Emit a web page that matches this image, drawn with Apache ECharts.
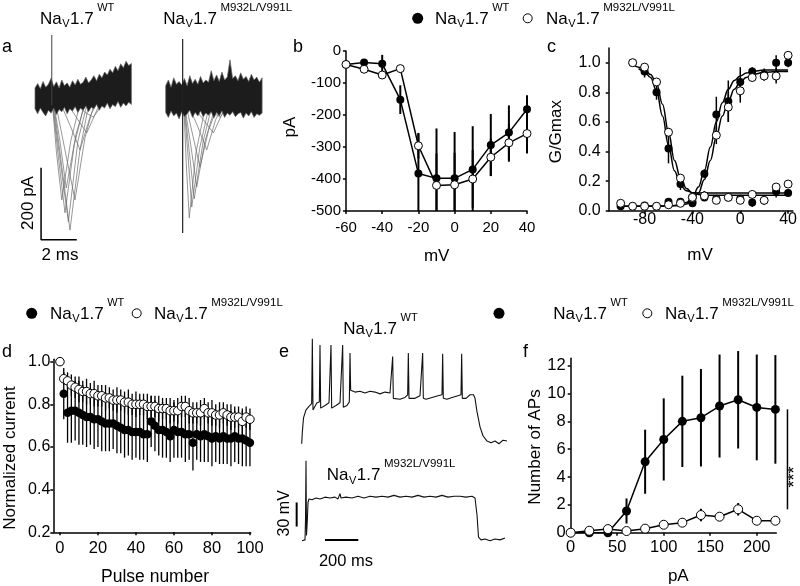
<!DOCTYPE html>
<html><head><meta charset="utf-8">
<script src="https://cdn.jsdelivr.net/npm/echarts@6/dist/echarts.min.js"></script>
<style>html,body{margin:0;padding:0;background:#fff}#chart{width:800px;height:586px}</style>
</head><body><div id="chart"></div>
<script>
const FONT = '"Liberation Sans", Arial, sans-serif';

// ---------- Panel b : I-V relation ----------
const bVolt   = [-60,-50,-40,-30,-20,-10,0,10,20,30,40];
const bWT     = [-42,-36,-40,-152,-383,-398,-398,-370,-294,-255,-182];
const bWTErr  = [0,8,28,45,125,156,145,135,97,85,44];
const bMut    = [-42,-57,-75,-55,-296,-420,-418,-400,-332,-287,-258];
const bMutErr = [0,10,12,8,40,100,100,90,58,59,62];

// ---------- Panel c : activation / inactivation ----------
const cActV      = [-100,-90,-80,-70,-60,-50,-40,-30,-20,-10,0,10,20,30,40];
const cActWT     = [0.03,0.03,0.035,0.03,0.06,0.06,0.05,0.25,0.65,0.74,0.87,0.94,0.92,1.0,1.0];
const cActWTErr  = [0,0,0,0,0.02,0.01,0.02,0.03,0.12,0.14,0.1,0.03,0.04,0.05,0.03];
const cActMut    = [0.05,0.03,0.03,0.03,0.04,0.05,0.09,0.10,0.51,0.70,0.81,0.90,0.91,0.91,1.05];
const cActMutErr = [0,0,0,0,0,0,0.02,0.03,0.06,0.1,0.08,0.03,0.03,0.05,0.01];
const cInV       = [-90,-80,-70,-60,-50,-40,-30,-20,-10,0,10,20,30,40];
const cInWT      = [1.0,0.94,0.80,0.42,0.18,0.06,0.09,0.08,0.09,0.08,0.055,0.07,0.13,0.12];
const cInWTErr   = [0,0.04,0.05,0.1,0.04,0.02,0.02,0.02,0.02,0.02,0.03,0.03,0.04,0.02];
const cInMut     = [1.0,0.97,0.87,0.53,0.22,0.09,0.10,0.07,0.09,0.07,0.11,0.07,0.16,0.18];
const cInMutErr  = [0,0,0.02,0.03,0.02,0.02,0.03,0.02,0.01,0.02,0.02,0.02,0.02,0.01];
const cFitInWTV  = [-85,-80,-75,-70,-65,-60,-55,-50,-45,-40,-35,40];
const cFitInWT   = [0.96,0.94,0.90,0.81,0.64,0.44,0.27,0.17,0.135,0.122,0.12,0.12];
const cFitInMutV = [-90,-85,-80,-75,-70,-65,-60,-55,-50,-45,-40,-35,-30,40];
const cFitInMut  = [0.99,0.97,0.955,0.92,0.86,0.72,0.53,0.34,0.22,0.15,0.12,0.11,0.105,0.105];
const cFitActV   = [-100,-60,-50,-45,-40,-35,-30,-25,-20,-15,-10,-5,0,5,10,20,30,40];
const cFitActWT  = [0.03,0.032,0.04,0.055,0.09,0.16,0.27,0.43,0.60,0.73,0.82,0.88,0.91,0.93,0.94,0.95,0.95,0.95];
const cFitActMut = [0.03,0.031,0.035,0.045,0.07,0.12,0.21,0.34,0.50,0.64,0.74,0.82,0.87,0.90,0.92,0.935,0.94,0.94];

// ---------- Panel d : use-dependent current ----------
const dPulse = Array.from({length:51}, (_, i) => i * 2);
const dWT = [1.00,0.85,0.76,0.77,0.77,0.76,0.75,0.74,0.74,0.73,0.73,0.72,0.71,0.71,0.71,0.70,0.69,0.68,0.68,0.67,0.67,0.67,0.66,0.66,0.72,0.70,0.68,0.68,0.67,0.65,0.68,0.67,0.67,0.66,0.66,0.62,0.66,0.65,0.66,0.65,0.64,0.65,0.64,0.65,0.64,0.64,0.65,0.64,0.64,0.63,0.62];
const dWTErr = [0,0.12,0.14,0.15,0.14,0.15,0.14,0.14,0.13,0.14,0.13,0.14,0.13,0.13,0.12,0.13,0.12,0.13,0.12,0.13,0.12,0.13,0.12,0.13,0.12,0.12,0.12,0.13,0.12,0.12,0.13,0.12,0.12,0.13,0.12,0.13,0.12,0.12,0.13,0.12,0.13,0.12,0.12,0.13,0.12,0.13,0.12,0.12,0.13,0.12,0.11];
const dMut = [1.00,0.92,0.91,0.89,0.88,0.87,0.86,0.86,0.85,0.85,0.84,0.84,0.83,0.83,0.82,0.82,0.82,0.81,0.81,0.80,0.80,0.80,0.80,0.79,0.79,0.79,0.78,0.78,0.78,0.77,0.77,0.77,0.79,0.79,0.77,0.76,0.76,0.76,0.78,0.76,0.76,0.75,0.75,0.76,0.75,0.74,0.74,0.74,0.72,0.74,0.73];
const dMutErr = [0,0.03,0.04,0.05,0.05,0.06,0.05,0.06,0.05,0.06,0.05,0.05,0.06,0.05,0.05,0.06,0.05,0.05,0.06,0.05,0.06,0.05,0.05,0.06,0.05,0.05,0.06,0.05,0.05,0.06,0.05,0.06,0.05,0.05,0.06,0.05,0.05,0.06,0.05,0.05,0.06,0.05,0.06,0.05,0.05,0.06,0.05,0.05,0.06,0.05,0.05];

// ---------- Panel f : number of APs ----------
const fCurrent = [0,20,40,60,80,100,120,140,160,180,200,220];
const fWT      = [0,0,0,1.56,5.1,6.7,8.0,8.26,9.1,9.55,9.0,8.86];
const fWTErr   = [0,0,0,0.9,2.3,2.95,3.28,3.5,3.7,3.5,3.8,3.9];
const fMut     = [0,0.14,0.26,0.12,0.29,0.57,0.72,1.27,1.15,1.68,0.86,0.86];
const fMutErr  = [0,0,0,0,0,0,0.3,0.45,0,0.45,0,0];
const fSigBar  = [[233,1.68,8.86]];

// ---------- Panel a : current traces (ms, pA) ----------
const aBandT  = [0,0.15,0.3,0.45,0.6,0.75,0.9,1.05,1.2,1.35,1.5,1.65,1.8,1.95,2.1,2.25,2.4,2.55,2.7,2.85,3.0,3.15,3.3,3.45,3.6,3.75,3.9,4.05,4.2,4.35,4.5,4.65,4.8,4.95,5.1,5.25,5.4];
const aWTUp   = [28,40,26,46,30,38,55,32,45,28,50,34,42,30,48,36,52,38,44,58,42,50,62,48,66,56,72,64,80,70,88,76,95,84,102,90,96];
const aWTLow  = [-30,-44,-28,-40,-50,-34,-42,-28,-46,-32,-38,-26,-44,-30,-36,-24,-40,-28,-34,-22,-38,-26,-30,-18,-34,-22,-28,-14,-30,-18,-24,-10,-26,-14,-22,-12,-18];
const aMutUp  = [34,50,30,56,38,46,36,54,34,62,40,52,38,60,42,50,44,76,48,64,46,72,50,58,106,54,62,48,70,52,60,46,66,50,58,44,56];
const aMutLow = [-40,-54,-36,-50,-42,-58,-38,-52,-44,-34,-54,-40,-50,-36,-52,-42,-48,-38,-56,-40,-50,-36,-54,-42,-48,-38,-52,-44,-40,-56,-42,-50,-38,-54,-44,-48,-42];
const aWTArtifact  = [[0.94,-20],[0.94,175]];
const aMutArtifact = [[0.95,164],[0.95,-375]];
const aWTTraces = [
  [[0.95,0],[1.2,-150],[1.5,-283],[2.0,-120],[2.5,-20],[2.8,0]],
  [[0.95,0],[1.3,-160],[1.68,-319],[2.2,-130],[2.7,-30],[3.0,0]],
  [[0.95,0],[1.4,-170],[1.87,-344],[2.4,-120],[2.9,-20],[3.2,0]],
  [[1.0,0],[1.5,-190],[1.96,-367],[2.5,-150],[3.0,-20],[3.3,0]],
  [[1.0,0],[1.4,-120],[1.75,-250],[2.3,-100],[2.9,0]],
  [[1.1,0],[1.7,-150],[2.24,-283],[2.8,-110],[3.4,0]],
  [[1.3,0],[2.0,-80],[2.52,-144],[3.1,-50],[3.6,0]],
  [[1.6,0],[2.4,-60],[2.9,-97],[3.5,-30],[4.0,0]],
  [[2.0,0],[2.8,-40],[3.27,-53],[3.9,-10],[4.4,0]]
];
const aMutTraces = [
  [[1.0,0],[1.15,-180],[1.32,-333],[1.7,-150],[2.2,-30],[2.5,0]],
  [[1.0,0],[1.25,-160],[1.46,-303],[1.9,-140],[2.4,-30],[2.7,0]],
  [[1.0,0],[1.3,-140],[1.6,-280],[2.1,-120],[2.6,-20],[2.9,0]],
  [[1.0,0],[1.4,-130],[1.74,-247],[2.2,-120],[2.8,-20],[3.1,0]],
  [[1.05,0],[1.5,-100],[1.92,-192],[2.4,-90],[3.0,-10],[3.3,0]],
  [[1.1,0],[1.8,-80],[2.3,-144],[2.8,-60],[3.4,0]],
  [[1.2,0],[2.1,-60],[2.67,-97],[3.2,-40],[3.8,0]],
  [[1.3,0],[2.5,-35],[3.04,-53],[3.6,-20],[4.2,0]]
];
const aScaleBar = [[0.34,-194],[0.34,-394],[2.34,-394]];

// ---------- Panel e : voltage traces (ms, mV) ----------
const eWT = [[40,-99],[44,-86],[51,-70],[66,-61],[84,-57],[100,-54],[104,19],[108,-61],[120,-57],[132,-53],[146,-52],[150,12],[154,-59],[180,-56],[204,-53],[212,-51],[216,12],[220,-59],[246,-56],[270,-53],[282,-51],[286,12],[290,-58],[312,-56],[326,-52],[330,3],[334,-39],[360,-41],[390,-40],[420,-42],[450,-40],[480,-41],[510,-43],[540,-41],[570,-42],[582,-44],[586,-1],[590,-48],[600,-50],[630,-49],[660,-47],[676,-44],[680,3],[684,-48],[696,-50],[720,-48],[750,-45],[762,-44],[766,3],[770,-48],[786,-49],[822,-47],[858,-45],[882,-44],[886,2],[890,-48],[912,-49],[942,-47],[978,-45],[996,-44],[1000,2],[1004,-48],[1026,-48],[1050,-44],[1071,-44],[1080,-48],[1092,-63],[1110,-80],[1128,-90],[1152,-96],[1176,-98],[1200,-96],[1224,-99],[1248,-95],[1272,-96]];
const eMut = [[42,-208],[60,-207],[63,-185],[66,-118],[69,-202],[74,-185],[78,-165],[84,-161],[102,-162],[126,-160],[150,-161],[180,-159],[210,-160],[240,-159],[258,-161],[270,-155],[276,-160],[306,-159],[342,-160],[378,-158],[414,-160],[450,-158],[486,-159],[522,-158],[558,-159],[594,-157],[630,-159],[666,-158],[702,-159],[738,-157],[774,-159],[810,-158],[846,-159],[882,-157],[918,-159],[954,-158],[990,-158],[1026,-159],[1062,-158],[1080,-160],[1092,-179],[1101,-204],[1116,-207],[1140,-206],[1170,-208],[1200,-206],[1230,-207],[1260,-205]];
const eScaleV = [[10,-165],[10,-192]];
const eScaleH = [[180,-207],[380,-207]];

// ================= helpers =================
const mctx = document.createElement('canvas').getContext('2d');
function tw(t, s){ mctx.font = s + 'px ' + FONT; return mctx.measureText(t).width; }
function txt(t, x, baseY, size, extra){
  return Object.assign({type:'text', x:x, y:baseY - 0.35*size, silent:true,
    style:{text:t, fontSize:size, fontFamily:FONT, fill:'#000', align:'left', verticalAlign:'middle'}}, extra||{});
}
function ctxt(t, cx, cy, size, rot){
  return {type:'text', x:cx, y:cy, rotation: rot||0, silent:true,
    style:{text:t, fontSize:size, fontFamily:FONT, fill:'#000', align:'center', verticalAlign:'middle'}};
}
function naLabel(x, baseY, sup){
  const big = 17, sub = 11, ss = sup.length > 3 ? 11.5 : 11;
  const wNa = tw('Na', big), wV = tw('V', sub), w17 = tw('1.7', big);
  return [
    txt('Na', x, baseY, big),
    txt('V', x + wNa + 0.5, baseY + 3.3, sub),
    txt('1.7', x + wNa + wV + 1, baseY, big),
    txt(sup, x + wNa + wV + 1 + w17 + 3.5, baseY - 13.5, ss)
  ];
}
function dot(cx, cy, filled){
  return {type:'circle', silent:true, shape:{cx:cx, cy:cy, r: filled ? 5.5 : 4.5},
    style: filled ? {fill:'#000'} : {fill:'#fff', stroke:'#000', lineWidth:1}};
}
function axX(gi, min, max, ticks, fs, margin){
  return {type:'value', gridIndex:gi, min:min, max:max,
    axisLine:{onZero:false, lineStyle:{color:'#000', width:1.5}},
    axisTick:{show:true, length:3, customValues:ticks, lineStyle:{color:'#000', width:1.5}},
    axisLabel:{customValues:ticks, color:'#000', fontSize:fs, fontFamily:FONT, margin:margin},
    splitLine:{show:false}};
}
function hidden(gi, min, max){ return {type:'value', gridIndex:gi, min:min, max:max, show:false}; }
function errRows(xs, ys, es, lo){
  const r = [];
  xs.forEach((x, i) => { if (es[i] > 0) r.push([x, Math.max(ys[i] - es[i], lo), ys[i] + es[i]]); });
  return r;
}
function errSeries(gi, rows, w){
  return {type:'custom', xAxisIndex:gi, yAxisIndex:gi, data:rows, silent:true, z:1,
    encode:{x:0, y:[1,2]},
    renderItem:(p, api) => {
      const a = api.coord([api.value(0), api.value(1)]);
      const b = api.coord([api.value(0), api.value(2)]);
      return {type:'line', shape:{x1:a[0], y1:a[1], x2:b[0], y2:b[1]}, style:{stroke:'#000', lineWidth:w}};
    }};
}
function pairs(xs, ys){ return xs.map((x, i) => [x, ys[i]]); }
const filledItem = {color:'#000', opacity:1};
const openItem = {color:'#fff', borderColor:'#000', borderWidth:1, opacity:1};
function ptLine(gi, xs, ys, filled, size, lw, z){
  return {type:'line', xAxisIndex:gi, yAxisIndex:gi, data:pairs(xs, ys), symbol:'circle', symbolSize:size,
    showAllSymbol:true, lineStyle:{color:'#000', width:lw}, itemStyle: filled ? filledItem : openItem, z:z, silent:true};
}
function scat(gi, xs, ys, filled, size, z){
  return {type:'scatter', xAxisIndex:gi, yAxisIndex:gi, data:pairs(xs, ys), symbol:'circle', symbolSize:size,
    itemStyle: filled ? filledItem : openItem, z:z, silent:true};
}
function fit(gi, xs, ys){
  return {type:'line', xAxisIndex:gi, yAxisIndex:gi, data:pairs(xs, ys), symbol:'none', smooth:0.4,
    smoothMonotone:'x', lineStyle:{color:'#000', width:1.5}, z:2, silent:true};
}
function trace(gi, data, color, w, z){
  return {type:'line', xAxisIndex:gi, yAxisIndex:gi, data:data, symbol:'none',
    lineStyle:{color:color, width:w}, z:z, silent:true};
}
function band(gi, T, up, low){
  return {type:'custom', xAxisIndex:gi, yAxisIndex:gi, data:[[T[0], up[0]]], silent:true, z:3,
    renderItem:(p, api) => {
      const pts = T.map((t, i) => api.coord([t, up[i]]));
      const lp = T.map((t, i) => api.coord([t, low[i]])).reverse();
      return {type:'polygon', shape:{points:pts.concat(lp)}, style:{fill:'#1c1c1c', stroke:'#666', lineWidth:0.7}};
    }};
}

// ================= option =================
const grids = [
  {left:346, top:51, width:181, height:160},          // 0 b
  {left:608.7, top:47.9, width:184.8, height:162.8},  // 1 c
  {left:53.3, top:359.3, width:197.4, height:173},    // 2 d
  {left:570.7, top:358.3, width:205.6, height:174.4}, // 3 f
  {left:35, top:26, width:96.4, height:223.2},        // 4 a WT
  {left:165.7, top:26, width:96.4, height:223.2},     // 5 a mut
  {left:295, top:320, width:225, height:227}          // 6 e
];
const xAxes = [
  axX(0, -60, 40, [-60,-40,-20,0,20,40], 15, 9),
  axX(1, -110, 44, [-80,-40,0,40], 16, 1),
  axX(2, -3.5, 100.4, [0,20,40,60,80,100], 16.5, 8),
  axX(3, 0, 221, [0,50,100,150,200], 16.5, 6),
  hidden(4, 0, 5.4), hidden(5, 0, 5.4), hidden(6, 0, 1350)
];
const yAxes = [
  axX(0, -500, 0, [-500,-400,-300,-200,-100,0], 15, 5),
  axX(1, 0, 1.1, [0,0.2,0.4,0.6,0.8,1.0], 16, 8),
  axX(2, 0.2, 1.011, [0.2,0.4,0.6,0.8,1.0], 16, 3),
  axX(3, 0, 12.53, [0,2,4,6,8,10,12], 16.5, 5),
  hidden(4, -420, 200), hidden(5, -420, 200), hidden(6, -215, 40)
];
yAxes[1].axisLabel.formatter = v => v.toFixed(1);
yAxes[2].axisLabel.formatter = v => v.toFixed(1);

const series = [];
// b
series.push(errSeries(0, errRows(bVolt, bWT, bWTErr, -500), 2));
series.push(errSeries(0, errRows(bVolt, bMut, bMutErr, -500), 2));
series.push(ptLine(0, bVolt, bWT, true, 8, 1.5, 3));
series.push(ptLine(0, bVolt, bMut, false, 8, 1.5, 4));
// c
series.push(errSeries(1, errRows(cActV, cActWT, cActWTErr, 0), 1.5));
series.push(errSeries(1, errRows(cActV, cActMut, cActMutErr, 0), 1.5));
series.push(errSeries(1, errRows(cInV, cInWT, cInWTErr, 0), 1.5));
series.push(errSeries(1, errRows(cInV, cInMut, cInMutErr, 0), 1.5));
series.push(fit(1, cFitInWTV, cFitInWT));
series.push(fit(1, cFitInMutV, cFitInMut));
series.push(fit(1, cFitActV, cFitActWT));
series.push(fit(1, cFitActV, cFitActMut));
series.push(scat(1, cActV, cActWT, true, 8, 3));
series.push(scat(1, cInV, cInWT, true, 8, 3));
series.push(scat(1, cActV, cActMut, false, 8, 4));
series.push(scat(1, cInV, cInMut, false, 8, 4));
// d
series.push(errSeries(2, errRows(dPulse, dWT, dWTErr, 0.2), 1.3));
series.push(errSeries(2, errRows(dPulse, dMut, dMutErr, 0.2), 1.3));
series.push(scat(2, dPulse, dWT, true, 8.5, 3));
series.push(scat(2, dPulse, dMut, false, 8.5, 4));
// f
series.push(errSeries(3, errRows(fCurrent, fWT, fWTErr, 0), 2));
series.push(errSeries(3, errRows(fCurrent, fMut, fMutErr, 0), 2));
series.push(ptLine(3, fCurrent, fWT, true, 9, 1.5, 3));
series.push(ptLine(3, fCurrent, fMut, false, 9, 1.5, 4));
series.push(errSeries(3, fSigBar, 1.5));
// a
aWTTraces.forEach(t => series.push(trace(4, t, '#6a6a6a', 0.7, 2)));
aMutTraces.forEach(t => series.push(trace(5, t, '#6a6a6a', 0.7, 2)));
series.push(band(4, aBandT, aWTUp, aWTLow));
series.push(band(5, aBandT, aMutUp, aMutLow));
series.push(trace(4, aWTArtifact, '#444', 1, 4));
series.push(trace(5, aMutArtifact, '#222', 1.2, 4));
series.push(trace(4, aScaleBar, '#000', 1.5, 4));
// e
series.push(trace(6, eWT, '#111', 1.1, 3));
series.push(trace(6, eMut, '#111', 1.1, 3));
series.push(trace(6, eScaleV, '#000', 2, 3));
series.push(trace(6, eScaleH, '#000', 2, 3));

const g = [];
// legends
g.push(dot(417.7, 18.3, true), dot(527.7, 18.3, false));
g.push(...naLabel(435, 25, 'WT'), ...naLabel(546, 25, 'M932L/V991L'));
g.push(dot(31.7, 313.3, true), dot(136.7, 313.3, false));
g.push(...naLabel(50, 320, 'WT'), ...naLabel(154, 320, 'M932L/V991L'));
g.push(dot(499, 313.3, true), dot(647.3, 313.3, false));
g.push(...naLabel(553.3, 320, 'WT'), ...naLabel(665, 320, 'M932L/V991L'));
// panel a / e titles
g.push(...naLabel(40, 25, 'WT'), ...naLabel(163.3, 25, 'M932L/V991L'));
g.push(...naLabel(343.3, 335, 'WT'), ...naLabel(326.7, 481.7, 'M932L/V991L'));
// panel letters
g.push(txt('a', 2, 53, 18), txt('b', 293, 53, 18), txt('c', 547, 53, 18));
g.push(txt('d', 2, 358, 18), txt('e', 279, 358, 18), txt('f', 523, 358, 18));
// axis titles
g.push(ctxt('pA', 290, 127, 17, Math.PI/2), ctxt('mV', 436.7, 256.7, 17));
g.push(ctxt('G/Gmax', 556.7, 131.7, 17, Math.PI/2), ctxt('mV', 700, 255, 17));
g.push(ctxt('Normalized current', 10, 458, 17, Math.PI/2), ctxt('Pulse number', 155, 576.7, 17.5));
g.push(ctxt('Number of APs', 535, 447, 17, Math.PI/2), ctxt('pA', 678.3, 576.7, 17));
g.push(ctxt('200 pA', 28, 203, 17, Math.PI/2), ctxt('2 ms', 60, 255, 17));
g.push(ctxt('30 mV', 285, 513.3, 16, Math.PI/2), ctxt('200 ms', 346, 561.7, 16.5));
g.push(ctxt('***', 795, 477, 18, Math.PI/2));

const chart = echarts.init(document.getElementById('chart'), null, {renderer:'canvas'});
chart.setOption({
  animation:false,
  backgroundColor:'#fff',
  grid:grids, xAxis:xAxes, yAxis:yAxes, series:series,
  graphic:{elements:g}
});
</script></body></html>
